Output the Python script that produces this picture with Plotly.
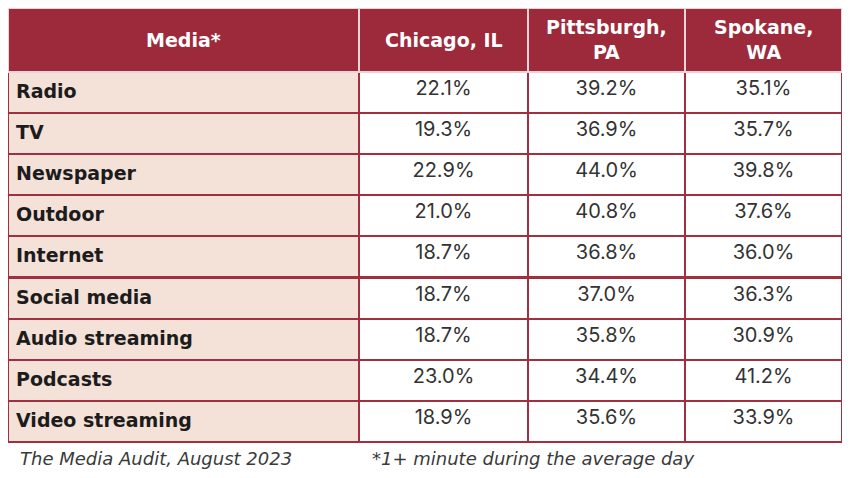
import plotly.graph_objects as go

# Daily reach by medium in three markets
media = ["Radio", "TV", "Newspaper", "Outdoor", "Internet", "Social media",
         "Audio streaming", "Podcasts", "Video streaming"]
chicago = [22.1, 19.3, 22.9, 21.0, 18.7, 18.7, 18.7, 23.0, 18.9]
pittsburgh = [39.2, 36.9, 44.0, 40.8, 36.8, 37.0, 35.8, 34.4, 35.6]
spokane = [35.1, 35.7, 39.8, 37.6, 36.0, 36.3, 30.9, 41.2, 33.9]
headers = ["Media*", "Chicago, IL", "Pittsburgh,<br>PA", "Spokane,<br>WA"]
source = "The Media Audit, August 2023"
note = "*1+ minute during the average day"

DARK_RED = "#9c2a3b"
PEACH = "#f4e1d8"
BOLD_FONT = "DejaVu Sans"
BODY_FONT = "Inter"

# page body has an 8px margin, so the figure is sized to fit inside it
W, H = 834, 462
col_w = [351, 169, 157, 157]
header_h = 64
row_h = 41.1


def pct(values):
    return [f"{v:.1f}%" for v in values]


n = len(media)
fig = go.Figure(go.Table(
    domain=dict(x=[0, 1], y=[0, 1]),
    columnwidth=col_w,
    header=dict(
        values=[""] * len(headers),
        fill_color=DARK_RED,
        line=dict(color="#ead3d6", width=2),
        height=header_h,
    ),
    cells=dict(
        values=[[f"<b>{m}</b>" for m in media], pct(chicago), pct(pittsburgh), pct(spokane)],
        fill_color=[[PEACH] * n, ["white"] * n, ["white"] * n, ["white"] * n],
        line=dict(color="#a0303f", width=2),
        font=dict(family=[BOLD_FONT, BODY_FONT, BODY_FONT, BODY_FONT], size=[19, 20, 20, 20],
                  color=["#1c1c1c", "#333333", "#333333", "#333333"]),
        align=["left", "center", "center", "center"],
        height=row_h,
    ),
))

# header labels, centred vertically in the header band
left = 0
for h, w in zip(headers, col_w):
    fig.add_annotation(text=f"<b>{h}</b>", x=(left + w / 2) / W, y=1 - (header_h / 2) / H,
                       xref="paper", yref="paper", xanchor="center", yanchor="middle",
                       showarrow=False, font=dict(family=BOLD_FONT, size=19, color="white"))
    left += w

# footer: source and footnote
fig.add_annotation(text=f"<i>{source}</i>", x=10 / W, y=1 - 450 / H,
                   xref="paper", yref="paper", xanchor="left", yanchor="middle",
                   showarrow=False, font=dict(family=BOLD_FONT, size=18, color="#3a3a3a"))
fig.add_annotation(text=f"<i>{note}</i>", x=362 / W, y=1 - 450 / H,
                   xref="paper", yref="paper", xanchor="left", yanchor="middle",
                   showarrow=False, font=dict(family=BOLD_FONT, size=18, color="#3a3a3a"))

fig.update_layout(
    width=W, height=H,
    margin=dict(l=0, r=0, t=0, b=0),
    paper_bgcolor="white",
)

fig.write_html("out.html")
